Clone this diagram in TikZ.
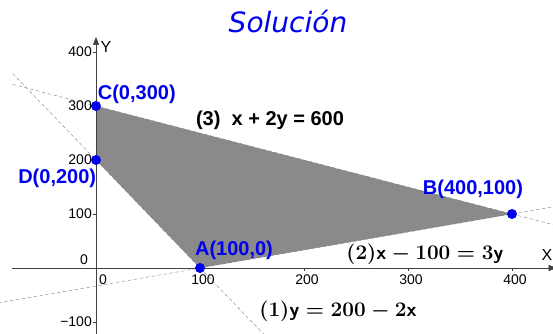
\documentclass[tikz,border=0pt]{standalone}
\usepackage{fontspec}
\newfontfamily\arial{Liberation Sans}
\newfontfamily\verd{DejaVu Sans}
\usetikzlibrary{arrows.meta,positioning}

\definecolor{regiongray}{RGB}{138,138,138}
\definecolor{ptblue}{RGB}{0,0,240}
\newcommand\sfvar[1]{\mbox{\sffamily\bfseries #1}}

\begin{document}
\begin{tikzpicture}[x=1.04pt,y=0.54pt,
  limline/.style={gray,thin,dash pattern=on 3.5pt off 2.5pt},
  axisline/.style={black!75,thin,-{Triangle[length=8pt,width=6pt]}},
  vertex/.style={circle,fill=ptblue,inner sep=0pt,minimum size=10pt},
  vlabel/.style={text=ptblue,font=\fontsize{20}{20}\arial\bfseries,inner sep=0pt},
  ticklbl/.style={font=\fontsize{14}{14}\arial,inner sep=0pt},
  eqmath/.style={font=\fontsize{20}{20}\selectfont\boldmath}]
\clip (-96pt,-65pt) rectangle (457pt,268pt);
% feasible region
\fill[regiongray] (0,300) -- (400,100) -- (100,0) -- (0,200) -- cycle;
% constraint lines
\coordinate (r1a) at (-80,360);
\coordinate (r1b) at (170,-140);
\coordinate (r2a) at (-100,-66.7);
\coordinate (r2b) at (460,120);
\coordinate (r3a) at (-80,340);
\coordinate (r3b) at (460,70);
\draw[limline] (r1a) -- (r1b);
\draw[limline] (r2a) -- (r2b);
\draw[limline] (r3a) -- (r3b);
% axes
\coordinate (xo) at (-81,0);
\coordinate (xe) at (443,0);
\coordinate (yo) at (0,-130);
\coordinate (ye) at (0,428);
\draw[axisline] (xo) -- (xe);
\draw[axisline] (yo) -- (ye);
\node[font=\fontsize{16}{16}\arial,inner sep=0pt,anchor=east] (xname) at (439,24) {X};
\node[font=\fontsize{16}{16}\arial,inner sep=0pt] (yname) at (9.5,409) {Y};
\foreach \x in {100,200,300,400} {
  \draw[black!75] (\x,0) -- ++(0,-3pt);
  \node[ticklbl] (tx\x) at ([shift={(3pt,-12pt)}]\x,0) {\x};
}
\node[ticklbl] (tx0) at ([shift={(7pt,-12pt)}]0,0) {0};
\foreach \y in {100,200,300,400} {
  \draw[black!75] (0,\y) -- ++(-3pt,0);
  \node[ticklbl,anchor=east] (ty\y) at ([xshift=-4pt]0,\y) {\y};
}
\draw[black!75] (0,-100) -- ++(-3pt,0);
\node[ticklbl,anchor=east] (tym100) at ([xshift=-4pt]0,-100) {−100};
\node[ticklbl,anchor=east] (ty0) at ([shift={(-8pt,8pt)}]0,0) {0};
% corner points
\node[vertex] (A) at (100,0) {};
\node[vertex] (B) at (400,100) {};
\node[vertex] (C) at (0,300) {};
\node[vertex] (D) at (0,200) {};
\node[vlabel,above=3pt of A,xshift=34pt] (Alabel) {A(100,0)};
\node[vlabel,above=10pt of B,xshift=-39pt] (Blabel) {B(400,100)};
\node[vlabel,above right=-2pt and -2pt of C] (Clabel) {C(0,300)};
\node[vlabel,below left=5pt and -4pt of D] (Dlabel) {D(0,200)};
% equations
\node[font=\fontsize{20}{20}\arial\bfseries] (eq3) at (167.3,274) {(3)\ \ x + 2y = 600};
\node[eqmath] (eq2) at (316.3,25.9) {$(2)\sfvar{x}-100=3\sfvar{y}$};
\node[eqmath] (eq1) at (232.7,-79.6) {$(1)\sfvar{y}=200-2\sfvar{x}$};
% title
\node[text=ptblue,font=\fontsize{28}{28}\verd\itshape] (title) at (184.6,455.6) {Solución};
\end{tikzpicture}
\end{document}
